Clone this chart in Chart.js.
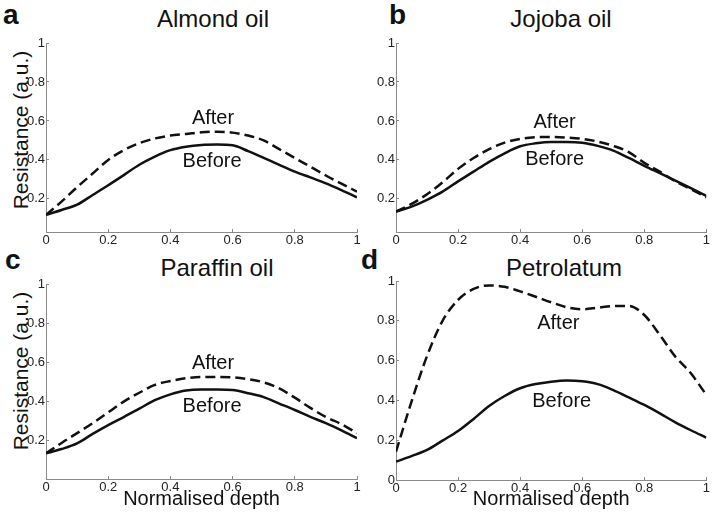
<!DOCTYPE html>
<html>
<head>
<meta charset="utf-8">
<script src="https://cdn.jsdelivr.net/npm/chart.js@4.4.1/dist/chart.umd.min.js"></script>
<style>
  body { margin: 0; width: 714px; height: 520px; position: relative; overflow: hidden; background: #fff;
         font-family: "Liberation Sans", Arial, sans-serif; color: #111; }
  canvas { position: absolute; }
  .ttl { position: absolute; font-size: 24px; line-height: 24px; white-space: nowrap; transform: translateX(-50%); }
  .let { position: absolute; font-size: 28px; line-height: 28px; font-weight: bold; }
  .yt  { position: absolute; font-size: 21px; line-height: 21px; white-space: nowrap; transform: translate(-50%, -50%) rotate(-90deg); }
</style>
</head>
<body>

<div class="let" style="left:3px;top:1px">a</div>
<div class="let" style="left:389px;top:1px">b</div>
<div class="let" style="left:5px;top:246px">c</div>
<div class="let" style="left:361px;top:246px">d</div>

<div class="ttl" style="left:213px;top:7px">Almond oil</div>
<div class="ttl" style="left:561px;top:7px">Jojoba oil</div>
<div class="ttl" style="left:217px;top:256px">Paraffin oil</div>
<div class="ttl" style="left:564px;top:256px">Petrolatum</div>

<div class="yt" style="left:20px;top:130px">Resistance (a.u.)</div>
<div class="yt" style="left:20px;top:371px">Resistance (a.u.)</div>

<canvas id="pa" width="365" height="252" style="left:0;top:0"></canvas>
<canvas id="pb" width="364" height="252" style="left:350px;top:0"></canvas>
<canvas id="pc" width="365" height="279" style="left:0;top:241px"></canvas>
<canvas id="pd" width="364" height="279" style="left:350px;top:241px"></canvas>

<script>
// normalised depth samples
var depth = [0, 0.05, 0.1, 0.15, 0.2, 0.25, 0.3, 0.35, 0.4, 0.45, 0.5,
             0.55, 0.6, 0.65, 0.7, 0.75, 0.8, 0.85, 0.9, 0.95, 1];

var almondBefore = [0.118, 0.143, 0.17, 0.22, 0.27, 0.322, 0.375, 0.417, 0.45, 0.468, 0.477,
                    0.479, 0.475, 0.445, 0.41, 0.375, 0.34, 0.31, 0.28, 0.245, 0.208];
var almondAfter  = [0.118, 0.186, 0.26, 0.33, 0.40, 0.45, 0.486, 0.51, 0.525, 0.533, 0.542,
                    0.545, 0.54, 0.525, 0.50, 0.455, 0.41, 0.365, 0.32, 0.278, 0.237];

var jojobaBefore = [0.135, 0.16, 0.195, 0.237, 0.29, 0.34, 0.39, 0.434, 0.47, 0.485, 0.492,
                    0.492, 0.488, 0.472, 0.448, 0.41, 0.37, 0.332, 0.294, 0.255, 0.215];
var jojobaAfter  = [0.135, 0.174, 0.224, 0.285, 0.354, 0.41, 0.455, 0.489, 0.508, 0.516, 0.518,
                    0.515, 0.508, 0.494, 0.472, 0.44, 0.385, 0.34, 0.29, 0.25, 0.208];

var paraffinBefore = [0.136, 0.158, 0.187, 0.235, 0.28, 0.321, 0.364, 0.407, 0.437, 0.457, 0.462,
                      0.462, 0.459, 0.443, 0.423, 0.39, 0.357, 0.322, 0.29, 0.253, 0.213];
var paraffinAfter  = [0.136, 0.189, 0.239, 0.29, 0.345, 0.40, 0.445, 0.485, 0.505, 0.519, 0.526,
                      0.526, 0.524, 0.514, 0.498, 0.467, 0.42, 0.368, 0.321, 0.285, 0.239];

var petroBefore = [0.092, 0.12, 0.151, 0.198, 0.246, 0.307, 0.372, 0.422, 0.461, 0.482, 0.494,
                   0.50, 0.496, 0.482, 0.452, 0.415, 0.377, 0.335, 0.29, 0.25, 0.213];
var petroAfter  = [0.142, 0.394, 0.623, 0.80, 0.905, 0.96, 0.978, 0.971, 0.948, 0.921, 0.893,
                   0.868, 0.858, 0.866, 0.874, 0.875, 0.829, 0.729, 0.62, 0.536, 0.427];

var xTicks = [0, 0.2, 0.4, 0.6, 0.8, 1];
var yTicks = [0.2, 0.4, 0.6, 0.8, 1];
var yTicksZero = [0, 0.2, 0.4, 0.6, 0.8, 1];

// "After" / "Before" label anchors in data units [x, y]
var almondNotes   = [[0.537, 0.615], [0.534, 0.39]];
var jojobaNotes   = [[0.511, 0.59],  [0.511, 0.40]];
var paraffinNotes = [[0.537, 0.594], [0.534, 0.373]];
var petroNotes    = [[0.523, 0.787], [0.534, 0.393]];

var tickFont = { family: '"Liberation Sans Narrow", "Arial Narrow", "Liberation Sans", sans-serif', size: 13 };

function pts(ys) {
  return ys.map(function(v, i) { return { x: depth[i], y: v }; });
}

var notesPlugin = {
  id: 'notes',
  afterDatasetsDraw: function(chart, args, opts) {
    var ctx = chart.ctx, xs = chart.scales.x, ys = chart.scales.y;
    var words = ['After', 'Before'];
    ctx.save();
    ctx.font = '20px "Liberation Sans", Arial, sans-serif';
    ctx.fillStyle = '#111';
    ctx.textAlign = 'center';
    ctx.textBaseline = 'middle';
    opts.at.forEach(function(p, i) {
      ctx.fillText(words[i], xs.getPixelForValue(p[0]), ys.getPixelForValue(p[1]));
    });
    ctx.restore();
  }
};

function panel(id, before, after, notes, o) {
  new Chart(document.getElementById(id), {
    type: 'line',
    data: {
      datasets: [{
        label: 'Before',
        data: pts(before),
        borderColor: '#111',
        borderWidth: 2.5,
        pointRadius: 0,
        cubicInterpolationMode: 'monotone'
      }, {
        label: 'After',
        data: pts(after),
        borderColor: '#111',
        borderWidth: 2.5,
        borderDash: [10, 5],
        pointRadius: 0,
        cubicInterpolationMode: 'monotone'
      }]
    },
    plugins: [notesPlugin],
    options: {
      responsive: false,
      animation: false,
      events: [],
      layout: { padding: { left: 0, right: o.pr, top: o.pt, bottom: 0 } },
      plugins: {
        legend: { display: false },
        tooltip: { enabled: false },
        notes: { at: notes }
      },
      scales: {
        x: {
          type: 'linear', min: 0, max: 1,
          afterBuildTicks: function(s) { s.ticks = xTicks.map(function(v) { return { value: v }; }); },
          afterFit: function(s) { s.height = o.hx; },
          border: { color: '#8a8a8a', width: 1 },
          grid: { drawOnChartArea: false, tickLength: -3, color: '#8a8a8a' },
          ticks: {
            font: tickFont, color: '#222', padding: 4, maxRotation: 0,
            callback: function(v) { return String(+v.toFixed(1)); }
          },
          title: {
            display: o.xTitle, text: 'Normalised depth', color: '#111',
            font: { family: '"Liberation Sans", Arial, sans-serif', size: 20 },
            padding: { top: 0, bottom: 9 }
          }
        },
        y: {
          type: 'linear', min: o.ymin, max: 1,
          afterBuildTicks: function(s) { s.ticks = o.yt.map(function(v) { return { value: v }; }); },
          afterFit: function(s) { s.width = 46; },
          border: { color: '#8a8a8a', width: 1 },
          grid: { drawOnChartArea: false, tickLength: -3, color: '#8a8a8a' },
          ticks: {
            font: tickFont, color: '#222', padding: 4,
            callback: function(v) { return String(+v.toFixed(1)); }
          }
        }
      }
    }
  });
}

panel('pa', almondBefore, almondAfter, almondNotes, { pr: 8, pt: 43, hx: 20, ymin: 0.03, yt: yTicks, xTitle: false });
panel('pb', jojobaBefore, jojobaAfter, jojobaNotes, { pr: 7, pt: 43, hx: 20, ymin: 0.03, yt: yTicks, xTitle: false });
panel('pc', paraffinBefore, paraffinAfter, paraffinNotes, { pr: 8, pt: 43, hx: 41, ymin: 0.005, yt: yTicks, xTitle: true });
panel('pd', petroBefore, petroAfter, petroNotes, { pr: 7, pt: 40, hx: 40, ymin: 0, yt: yTicksZero, xTitle: true });
</script>
</body>
</html>
